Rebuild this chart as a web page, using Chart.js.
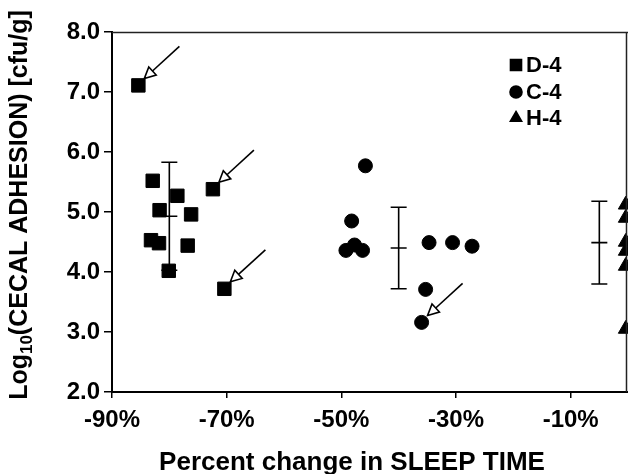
<!DOCTYPE html>
<html><head><meta charset="utf-8">
<style>html,body{margin:0;padding:0;background:#fff;} #wrap{width:628px;height:474px;}</style>
<script src="https://cdn.jsdelivr.net/npm/chart.js@4"></script>
</head><body><div id="wrap"><canvas id="c" width="628" height="474"></canvas></div>
<script>
// ---- data ----
const seriesNames = ['D-4', 'C-4', 'H-4'];
const d4X = [-85.4, -82.9, -78.6, -81.7, -76.2, -83.2, -81.8, -76.8, -80.1, -72.4, -70.4];
const d4Y = [7.11, 5.52, 5.27, 5.03, 4.96, 4.53, 4.48, 4.44, 4.02, 5.38, 3.72];
const c4X = [-45.8, -48.2, -49.2, -47.7, -46.3, -34.7, -30.6, -27.2, -35.3, -36.0];
const c4Y = [5.77, 4.85, 4.36, 4.45, 4.36, 4.49, 4.49, 4.43, 3.71, 3.16];
const h4X = [-0.4, -0.4, -0.4, -0.4, -0.4, -0.4];
const h4Y = [5.12, 4.90, 4.50, 4.35, 4.10, 3.05];
const barX = [-80, -40, -5];
const barMean = [4.93, 4.40, 4.49];
const barSD = [0.90, 0.68, 0.69];
const xTicks = [-90, -70, -50, -30, -10];
const yTicks = [2, 3, 4, 5, 6, 7, 8];
const arrowed = [[0, 0], [0, 9], [0, 10], [1, 9]]; // [series, point]
const xTitle = 'Percent change in SLEEP TIME';
const yTitleParts = ['Log', '10', '(CECAL ADHESION) [cfu/g]'];

const FONT = '"Liberation Sans", Arial, Helvetica, sans-serif';
const styles = ['rect', 'circle', 'triangle'];
const radii = [9.5, 7, 8.5];
const legendRadii = [7.8, 6, 6.5];

function pts(xs, ys) { return xs.map((x, i) => ({x: x, y: ys[i]})); }
const allX = [d4X, c4X, h4X], allY = [d4Y, c4Y, h4Y];

const extras = {
  id: 'extras',
  afterDatasetsDraw(chart) {
    const ctx = chart.ctx, xs = chart.scales.x, ys = chart.scales.y, ca = chart.chartArea;
    ctx.save();
    // frame top/right
    ctx.strokeStyle = '#222'; ctx.lineWidth = 1.5;
    ctx.beginPath();
    ctx.moveTo(ca.left, ca.top + 0.5); ctx.lineTo(ca.right, ca.top + 0.5);
    ctx.moveTo(ca.right - 1.5, ca.top); ctx.lineTo(ca.right - 1.5, ca.bottom);
    ctx.stroke();
    // error bars
    ctx.strokeStyle = '#000'; ctx.lineWidth = 1.6;
    for (let i = 0; i < barX.length; i++) {
      const px = xs.getPixelForValue(barX[i]);
      const top = ys.getPixelForValue(barMean[i] + barSD[i]);
      const mid = ys.getPixelForValue(barMean[i]);
      const bot = ys.getPixelForValue(barMean[i] - barSD[i]);
      const w = 8;
      ctx.beginPath();
      ctx.moveTo(px, top); ctx.lineTo(px, bot);
      ctx.moveTo(px - w, top); ctx.lineTo(px + w, top);
      ctx.moveTo(px - w, mid); ctx.lineTo(px + w, mid);
      ctx.moveTo(px - w, bot); ctx.lineTo(px + w, bot);
      ctx.stroke();
    }
    // arrows
    arrowed.forEach(([s, p]) => {
      const cx = xs.getPixelForValue(allX[s][p]);
      const cy = ys.getPixelForValue(allY[s][p]);
      const tipX = cx + 6, tipY = cy - 7;
      const tailX = tipX + 35, tailY = tipY - 32;
      const dx = tailX - tipX, dy = tailY - tipY, L = Math.hypot(dx, dy);
      const ux = dx / L, uy = dy / L, nx = -uy, ny = ux;
      const hl = 11, hw = 5.5;
      const bx = tipX + ux * hl, by = tipY + uy * hl;
      ctx.lineWidth = 1.6; ctx.strokeStyle = '#000';
      ctx.beginPath(); ctx.moveTo(bx, by); ctx.lineTo(tailX, tailY); ctx.stroke();
      ctx.beginPath();
      ctx.moveTo(tipX, tipY);
      ctx.lineTo(bx + nx * hw, by + ny * hw);
      ctx.lineTo(bx - nx * hw, by - ny * hw);
      ctx.closePath();
      ctx.fillStyle = '#fff'; ctx.fill(); ctx.stroke();
    });
    // legend
    ctx.fillStyle = '#000';
    ctx.font = 'bold 22px ' + FONT;
    ctx.textBaseline = 'middle'; ctx.textAlign = 'left';
    const rows = [65, 92, 118];
    seriesNames.forEach((n, i) => {
      Chart.helpers.drawPoint(ctx, {pointStyle: styles[i], radius: legendRadii[i], borderWidth: 1, rotation: 0}, 516, rows[i]);
      ctx.fillStyle = '#000';
      ctx.fill();
      ctx.fillText(n, 526, rows[i] + 1);
    });
    // x title
    ctx.font = 'bold 26px ' + FONT;
    ctx.textAlign = 'center'; ctx.textBaseline = 'alphabetic';
    ctx.fillText(xTitle, 352, 470);
    // y title with subscript
    ctx.translate(27, 205);
    ctx.rotate(-Math.PI / 2);
    const big = 'bold 25px ' + FONT, small = 'bold 17px ' + FONT;
    ctx.font = big; const w0 = ctx.measureText(yTitleParts[0]).width;
    const w2 = ctx.measureText(yTitleParts[2]).width;
    ctx.font = small; const w1 = ctx.measureText(yTitleParts[1]).width;
    let x0 = -(w0 + w1 + w2) / 2;
    ctx.textAlign = 'left';
    ctx.font = big; ctx.fillText(yTitleParts[0], x0, 0);
    ctx.font = small; ctx.fillText(yTitleParts[1], x0 + w0, 5);
    ctx.font = big; ctx.fillText(yTitleParts[2], x0 + w0 + w1, 0);
    ctx.restore();
  }
};

new Chart(document.getElementById('c'), {
  type: 'scatter',
  data: {
    datasets: [0, 1, 2].map(i => ({
      label: seriesNames[i],
      data: pts(allX[i], allY[i]),
      pointStyle: styles[i],
      pointRadius: radii[i],
      pointHoverRadius: radii[i],
      backgroundColor: '#000',
      borderColor: '#000',
      borderWidth: 1,
      clip: false
    }))
  },
  options: {
    responsive: false,
    devicePixelRatio: 1,
    animation: false,
    layout: {autoPadding: false, padding: {top: 32, right: 0, left: 0, bottom: 0}},
    plugins: {legend: {display: false}, tooltip: {enabled: false}},
    scales: {
      x: {
        type: 'linear', min: -90, max: 0,
        afterBuildTicks: s => { s.ticks = xTicks.map(v => ({value: v})); },
        afterFit: s => { s.height = 82; s.paddingRight = 0; s.paddingLeft = 0; },
        border: {display: true, color: '#000', width: 2},
        grid: {display: true, drawOnChartArea: false, drawTicks: true, tickLength: 6, color: '#000', lineWidth: 1.5},
        ticks: {color: '#000', padding: 8, maxRotation: 0, font: {family: FONT, size: 24, weight: 'bold'},
                callback: v => v + '%'}
      },
      y: {
        type: 'linear', min: 2, max: 8,
        afterBuildTicks: s => { s.ticks = yTicks.map(v => ({value: v})); },
        afterFit: s => { s.width = 112; s.paddingTop = 0; s.paddingBottom = 0; },
        border: {display: true, color: '#000', width: 2},
        grid: {display: true, drawOnChartArea: false, drawTicks: true, tickLength: 8, color: '#000', lineWidth: 1.5},
        ticks: {color: '#000', padding: 4, font: {family: FONT, size: 24, weight: 'bold'},
                callback: v => Number(v).toFixed(1)}
      }
    }
  },
  plugins: [extras]
});
</script>
</body></html>
